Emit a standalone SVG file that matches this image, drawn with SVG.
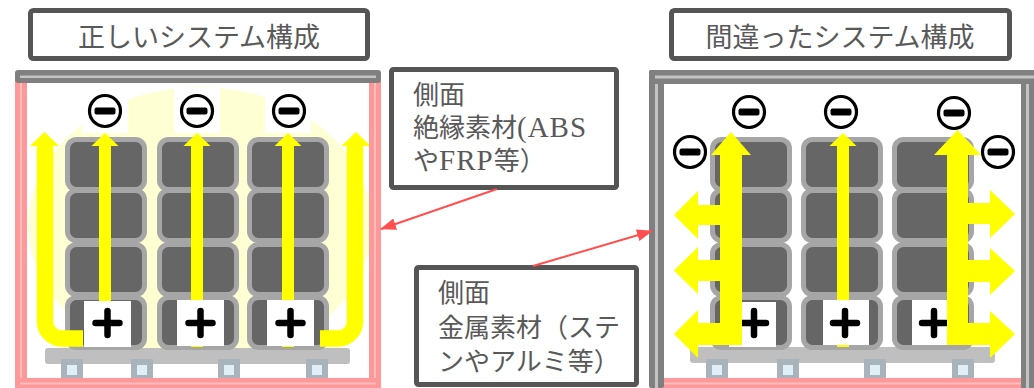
<svg xmlns="http://www.w3.org/2000/svg" xmlns:xlink="http://www.w3.org/1999/xlink" width="1034" height="388" viewBox="0 0 1034 388">
  <style>
    .title { font-family: 'Noto Sans CJK JP', sans-serif; font-size: 27px; fill: #595959; text-anchor: middle; }
    .note { font-family: 'Liberation Serif', 'Noto Sans CJK JP', serif; font-size: 26px; fill: #595959; }
    .latin { font-size: 29px; letter-spacing: 1px; }
    .box { fill: #fff; stroke: #555; stroke-width: 5; }
    .cell { fill: #666; stroke: #a6a6a6; stroke-width: 5; }
    .yellow { fill: #ffff00; }
    .pallet { fill: #bfbfbf; }
    .foot { fill: #e0eef8; stroke: #a9b3bb; stroke-width: 6; }
    .pink { fill: #ff9999; }
    .pinkLine { fill: #ffbdbd; }
    .gray { fill: #808080; }
    .grayLine { fill: #c4c4c4; }
    .pluswhite { fill: #fff; }
    .link { stroke: #ff4f4f; stroke-width: 2; fill: none; }
  </style>
  <defs>
    <marker id="redHead" viewBox="0 0 16 12" refX="15" refY="6" markerWidth="16" markerHeight="12" markerUnits="userSpaceOnUse" orient="auto">
      <path d="M0,0 L16,6 L0,12 z" fill="#ff4f4f"/>
    </marker>
    <!-- four stacked battery cells -->
    <g id="cellStack">
      <rect class="cell" x="0" y="139.5" width="77" height="50" rx="9"/>
      <rect class="cell" x="0" y="190.5" width="77" height="50" rx="9"/>
      <rect class="cell" x="0" y="244.5" width="77" height="50" rx="9"/>
      <rect class="cell" x="0" y="297.5" width="77" height="50" rx="9"/>
    </g>
    <g id="minus">
      <circle r="15.5" fill="#fff" stroke="#000" stroke-width="3.2"/>
      <rect x="-10.5" y="-3.5" width="21" height="7" rx="2" fill="#000"/>
    </g>
    <path id="plus" d="M-12 0H12M0 -12V12" stroke="#000" stroke-width="6.5" stroke-linecap="round" fill="none"/>
    <!-- thin up arrow, tip at origin -->
    <g id="thinArrow">
      <polygon class="yellow" points="-13.5,13 0,0 13.5,13"/>
      <rect class="yellow" x="-6" y="12" width="12" height="202"/>
    </g>
    <clipPath id="leftInner">
      <rect x="27" y="83" width="342" height="295"/>
    </clipPath>
  </defs>

  <!-- ===== Left: correct configuration ===== -->
  <g id="left-title">
    <rect class="box" x="30.5" y="10.5" width="337" height="48" rx="3"/>
    <text class="title" x="199" y="47">正しいシステム構成</text>
  </g>

  <g id="left-system">
    <ellipse cx="200" cy="225" rx="172" ry="138" fill="#ffffd4" clip-path="url(#leftInner)"/>
    <rect fill="#fff" x="82" y="88" width="46" height="45"/>
    <rect fill="#fff" x="174" y="88" width="46" height="45"/>
    <rect fill="#fff" x="265" y="88" width="46" height="45"/>

    <rect class="pallet" x="45" y="348" width="305" height="16" rx="3"/>
    <rect class="foot" x="64" y="362" width="16" height="16"/>
    <rect class="foot" x="134" y="362" width="16" height="16"/>
    <rect class="foot" x="221" y="362" width="16" height="16"/>
    <rect class="foot" x="309" y="362" width="16" height="16"/>

    <use xlink:href="#cellStack" x="67.5"/>
    <use xlink:href="#cellStack" x="159.5"/>
    <use xlink:href="#cellStack" x="249.5"/>

    <use xlink:href="#thinArrow" x="105" y="133"/>
    <use xlink:href="#thinArrow" x="197" y="133"/>
    <use xlink:href="#thinArrow" x="288" y="133"/>

    <rect class="pluswhite" x="84" y="301" width="47" height="46"/>
    <rect class="pluswhite" x="177" y="300" width="47" height="46"/>
    <rect class="pluswhite" x="267" y="300" width="47" height="46"/>
    <use xlink:href="#plus" x="107.5" y="323"/>
    <use xlink:href="#plus" x="200.5" y="323"/>
    <use xlink:href="#plus" x="290.5" y="323"/>

    <!-- return paths along the insulated walls -->
    <path d="M83 338.5H62A17 17 0 0 1 45 321.5V145" stroke="#ffff00" stroke-width="16.5" fill="none"/>
    <polygon class="yellow" points="30,146 44.5,132 59,146"/>
    <path d="M320 338.5H338A17 17 0 0 0 355 321.5V145" stroke="#ffff00" stroke-width="16.5" fill="none"/>
    <polygon class="yellow" points="341.5,146 356,132 370.5,146"/>

    <use xlink:href="#minus" x="105" y="111"/>
    <use xlink:href="#minus" x="197" y="111"/>
    <use xlink:href="#minus" x="289" y="111"/>

    <!-- insulating enclosure -->
    <rect class="pink" x="15" y="80" width="12" height="308"/>
    <rect class="pinkLine" x="20" y="83" width="2" height="305"/>
    <rect class="pink" x="369" y="80" width="12" height="308"/>
    <rect class="pinkLine" x="374" y="83" width="2" height="305"/>
    <rect class="pink" x="15" y="378" width="366" height="10"/>
    <rect class="pinkLine" x="20" y="382.5" width="356" height="2"/>
    <rect class="gray" x="15" y="70" width="366" height="13" rx="3"/>
    <rect class="grayLine" x="20" y="75.5" width="356" height="2.5"/>
  </g>

  <!-- ===== Right: wrong configuration ===== -->
  <g id="right-title">
    <rect class="box" x="671.5" y="10.5" width="338" height="48" rx="3"/>
    <text class="title" x="840" y="47">間違ったシステム構成</text>
  </g>

  <g id="right-system">
    <rect class="pallet" x="690" y="347" width="305" height="16" rx="3"/>
    <rect class="foot" x="709" y="362" width="16" height="16"/>
    <rect class="foot" x="780" y="362" width="16" height="16"/>
    <rect class="foot" x="867" y="362" width="16" height="16"/>
    <rect class="foot" x="955" y="362" width="16" height="16"/>

    <use xlink:href="#cellStack" x="712.5"/>
    <use xlink:href="#cellStack" x="803.5"/>
    <use xlink:href="#cellStack" x="894.5"/>

    <use xlink:href="#thinArrow" x="843" y="133"/>

    <rect class="pluswhite" x="729" y="302" width="47" height="45"/>
    <rect class="pluswhite" x="823" y="300" width="46" height="45"/>
    <rect class="pluswhite" x="912" y="300" width="46" height="45"/>
    <use xlink:href="#plus" x="754" y="323"/>
    <use xlink:href="#plus" x="845" y="323"/>
    <use xlink:href="#plus" x="934" y="323"/>

    <!-- current leaking sideways into the metal walls -->
    <g id="leak-left">
      <polygon class="yellow" points="711,155 731,132 751,155"/>
      <rect class="yellow" x="720" y="154" width="22" height="191"/>
      <rect class="yellow" x="697" y="205" width="24" height="20"/>
      <polygon class="yellow" points="698,191 674,215 698,239"/>
      <rect class="yellow" x="697" y="260" width="24" height="21"/>
      <polygon class="yellow" points="698,247 674,270.5 698,294"/>
      <rect class="yellow" x="697" y="323" width="24" height="22"/>
      <polygon class="yellow" points="698,310 674,334 698,358"/>
    </g>
    <g id="leak-right">
      <polygon class="yellow" points="934,155 957.5,130 981,155"/>
      <rect class="yellow" x="947" y="154" width="21" height="191"/>
      <rect class="yellow" x="967" y="203" width="24" height="21"/>
      <polygon class="yellow" points="990,190 1015,214 990,238"/>
      <rect class="yellow" x="967" y="260" width="24" height="22"/>
      <polygon class="yellow" points="990,248 1015,271 990,295"/>
      <rect class="yellow" x="967" y="323" width="24" height="22"/>
      <polygon class="yellow" points="990,311 1015,334 990,358"/>
    </g>

    <use xlink:href="#minus" x="749" y="112"/>
    <use xlink:href="#minus" x="841" y="112"/>
    <use xlink:href="#minus" x="954" y="113"/>
    <use xlink:href="#minus" x="690" y="152"/>
    <use xlink:href="#minus" x="998" y="152"/>

    <!-- metal enclosure -->
    <rect class="pink" x="663" y="378" width="359" height="10"/>
    <rect class="pinkLine" x="663" y="382.5" width="359" height="2"/>
    <rect class="gray" x="649" y="70" width="15" height="318" rx="2"/>
    <rect class="grayLine" x="655" y="76" width="3" height="312"/>
    <rect class="gray" x="1021" y="70" width="13" height="318"/>
    <rect class="grayLine" x="1026" y="76" width="3" height="312"/>
    <rect class="gray" x="649" y="70" width="385" height="14" rx="2"/>
    <rect class="grayLine" x="655" y="75.5" width="379" height="3"/>
  </g>

  <!-- ===== Side-wall notes ===== -->
  <g id="note-insulated">
    <rect class="box" x="391.5" y="69.5" width="225" height="118" rx="2"/>
    <text class="note" x="413" y="104">側面</text>
    <text class="note" x="413" y="137">絶縁素材<tspan class="latin">(ABS</tspan></text>
    <text class="note" x="413" y="170">や<tspan class="latin" letter-spacing="2">FRP</tspan>等）</text>
  </g>
  <g id="note-metal">
    <rect class="box" x="416.5" y="267.5" width="220" height="117" rx="2"/>
    <text class="note" x="438" y="302">側面</text>
    <text class="note" x="438" y="337">金属素材（ステ</text>
    <text class="note" x="438" y="371">ンやアルミ等）</text>
  </g>

  <g id="connectors">
    <line class="link" x1="497" y1="189" x2="381" y2="229" marker-end="url(#redHead)"/>
    <line class="link" x1="533" y1="266" x2="652" y2="231" marker-end="url(#redHead)"/>
  </g>
</svg>
